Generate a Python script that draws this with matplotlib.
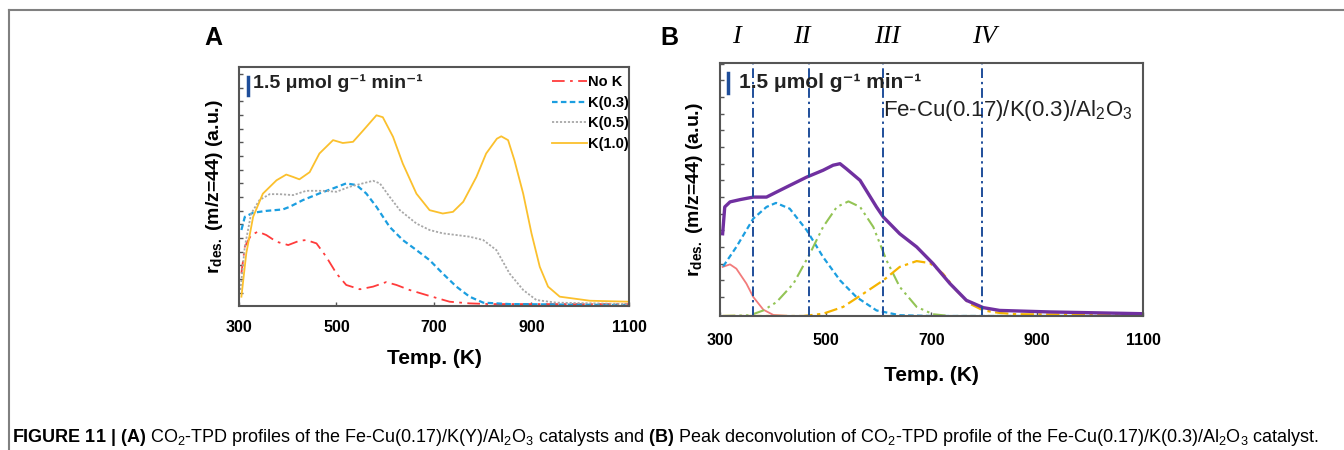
import numpy as np
import matplotlib
matplotlib.use("Agg")
import matplotlib.pyplot as plt
from matplotlib.lines import Line2D

plt.rcParams['font.family'] = ['Liberation Sans', 'DejaVu Sans']
plt.rcParams['mathtext.fontset'] = 'custom'
plt.rcParams['mathtext.rm'] = 'Liberation Sans'
plt.rcParams['mathtext.bf'] = 'Liberation Sans:bold'
plt.rcParams['mathtext.it'] = 'Liberation Sans:italic'

# ---- panel A: CO2-TPD profiles for different K loadings ----
t_nok = [305, 312, 325, 339, 356, 377, 401, 424, 438, 459, 479, 500, 520, 548,
         575, 602, 623, 650, 691, 732, 773, 814, 1100]
r_nok = [13.6, 24.8, 29.7, 31.1, 29.7, 26.9, 25.5, 27.3, 27.6, 26.2, 20.6, 13.6,
         8.8, 7.0, 8.1, 10.0, 8.8, 6.7, 4.2, 1.8, 1.1, 0.8, 0.8]

t_k03 = [305, 312, 329, 356, 390, 404, 431, 465, 493, 520, 541, 561, 582, 609,
         636, 664, 691, 718, 746, 773, 801, 855, 1100]
r_k03 = [31.8, 37.3, 39.0, 39.8, 40.4, 41.5, 44.3, 47.1, 49.2, 51.3, 50.6, 47.1,
         41.5, 33.1, 27.6, 23.4, 19.2, 13.6, 8.1, 3.9, 1.4, 0.8, 0.4]

t_k05 = [303, 312, 325, 342, 363, 383, 411, 438, 472, 500, 527, 554, 575, 589,
         609, 630, 664, 691, 718, 746, 773, 801, 828, 855, 883, 910, 951, 1100]
r_k05 = [6.7, 24.8, 38.7, 44.3, 46.8, 46.8, 46.4, 48.2, 48.2, 47.8, 49.9, 51.3,
         52.4, 51.3, 45.7, 40.1, 34.5, 31.8, 30.4, 29.7, 29.0, 27.6, 23.4, 13.6,
         6.7, 2.5, 1.4, 0.8]

t_k10 = [305, 315, 329, 349, 377, 397, 411, 424, 445, 465, 493, 513, 534, 555,
         582, 595, 616, 636, 664, 691, 718, 739, 760, 787, 807, 829, 838, 852,
         865, 883, 900, 917, 934, 958, 1020, 1100]
r_k10 = [3.9, 22.0, 37.3, 47.0, 52.6, 55.0, 54.0, 53.0, 56.0, 63.8, 69.4, 68.2,
         68.7, 73.5, 79.8, 79.0, 70.8, 59.6, 47.0, 40.1, 38.7, 39.4, 43.6, 54.0,
         63.8, 70.0, 71.0, 69.4, 61.0, 47.0, 30.4, 16.4, 8.1, 3.9, 2.2, 1.8]

labels_a = ['No K', 'K(0.3)', 'K(0.5)', 'K(1.0)']

# ---- panel B: deconvolution of the K(0.3) profile ----
t_tot = [305, 309, 319, 338, 363, 388, 407, 432, 464, 495, 514, 527, 539, 565,
         596, 609, 640, 672, 703, 735, 766, 798, 829, 924, 1100]
r_tot = [32.5, 43.1, 45.1, 46.0, 47.0, 47.0, 49.0, 51.6, 54.9, 57.6, 59.6, 60.2,
         58.2, 53.6, 43.1, 39.1, 32.5, 27.3, 20.7, 12.8, 6.2, 3.3, 2.2, 1.6, 0.9]

t_p1 = [305, 319, 331, 350, 363, 382, 401, 432, 1100]
r_p1 = [19.4, 20.4, 18.7, 12.8, 7.5, 2.5, 0.4, 0.0, 0.0]

t_p2 = [306, 331, 363, 388, 406, 432, 464, 495, 527, 558, 596, 640, 700, 1100]
r_p2 = [19.6, 27.3, 38.5, 43.1, 44.7, 42.4, 33.9, 23.3, 14.1, 7.5, 2.2, 0.3, 0.0, 0.0]

t_p3 = [305, 357, 382, 407, 439, 470, 495, 521, 543, 565, 590, 615, 640, 672,
        703, 735, 1100]
r_p3 = [0.0, 0.3, 2.2, 5.5, 12.8, 24.6, 35.2, 43.1, 45.3, 43.1, 35.2, 22.0, 11.5,
        3.6, 0.7, 0.0, 0.0]

t_p4 = [305, 458, 495, 533, 571, 609, 640, 672, 697, 722, 747, 772, 798, 829,
        861, 1100]
r_p4 = [0.0, 0.0, 0.9, 3.6, 8.8, 14.1, 19.4, 21.7, 20.9, 16.7, 10.1, 4.9, 2.2,
        1.2, 0.7, 0.4]

region_edges = [362, 468, 608, 795]
region_names = ['I', 'II', 'III', 'IV']
region_label_x = [332, 455, 616, 801]

rate_text = '1.5 μmol g⁻¹ min⁻¹'
ylab = r'r$_{\mathbf{des.}}$ (m/z=44) (a.u.)'

fig = plt.figure(figsize=(13.44, 4.5), dpi=100)

# thin page frame
fig.add_artist(Line2D([0.0067, 1.0], [0.978, 0.978], color='#808080', lw=1.5))
fig.add_artist(Line2D([0.0067, 0.0067], [0.978, 0.0], color='#808080', lw=1.5))


def style_axes(ax, yticks, pad):
    ax.set_xlim(300, 1100)
    ax.set_ylim(0, 100)
    ax.set_xticks([300, 500, 700, 900, 1100])
    ax.set_yticks(yticks)
    ax.set_yticklabels([])
    ax.tick_params(axis='both', direction='in', length=3, width=1, color='#555555')
    ax.tick_params(axis='x', pad=pad, labelsize=11.5)
    for lab in ax.get_xticklabels():
        lab.set_fontweight('bold')
    for s in ax.spines.values():
        s.set_color('#555555')
        s.set_linewidth(1.5)


# panel A
axA = fig.add_axes([0.1778, 0.32, 0.2902, 0.5311])
axA.plot(t_nok, r_nok, color='#ff3b3b', lw=1.3, dashes=(7, 3, 1.5, 3), label=labels_a[0])
axA.plot(t_k03, r_k03, color='#1b9ee0', lw=1.6, dashes=(2.5, 1.5), label=labels_a[1])
axA.plot(t_k05, r_k05, color='#a8a8a8', lw=1.3, dashes=(1.2, 1.0), label=labels_a[2])
axA.plot(t_k10, r_k10, color='#fbc02d', lw=1.3, label=labels_a[3])
style_axes(axA, np.arange(5.6, 100, 5.72), 10)
axA.set_xlabel('Temp. (K)', fontsize=15, fontweight='bold')
axA.xaxis.set_label_coords(0.5, -0.18)
axA.set_ylabel(ylab, fontsize=14, fontweight='bold')
axA.yaxis.set_label_coords(-0.035, 0.5)
leg = axA.legend(loc='upper right', bbox_to_anchor=(1.0, 0.965), frameon=False,
                 borderpad=0, borderaxespad=0, handlelength=2.4, handletextpad=0.1,
                 labelspacing=0.45, prop={'weight': 'bold', 'size': 10.5})
axA.add_line(Line2D([0.022, 0.022], [0.883, 0.958], transform=axA.transAxes,
                    color='#1f4e9a', lw=2.5))
axA.text(0.036, 0.933, rate_text, transform=axA.transAxes, fontsize=14,
         fontweight='bold', va='center', ha='left', color='#222222')
fig.text(213 / 1344, 1 - 38 / 450, 'A', fontsize=18, fontweight='bold',
         ha='center', va='center')

# panel B
axB = fig.add_axes([0.5357, 0.2978, 0.3147, 0.5622])
axB.plot(t_p1, r_p1, color='#f27b7b', lw=1.3)
axB.plot(t_p2, r_p2, color='#1b9ee0', lw=1.6, dashes=(2.5, 1.5))
axB.plot(t_p3, r_p3, color='#93c455', lw=1.5, dashes=(6, 2, 1.2, 2, 1.2, 2))
axB.plot(t_p4, r_p4, color='#f5b400', lw=1.6, dashes=(6, 2, 1.5, 2))
axB.plot(t_tot, r_tot, color='#7030a0', lw=2.4)
for xe in region_edges:
    axB.axvline(xe, color='#1f4e9a', lw=1.4, dashes=(5, 2, 1.2, 2))
for xn, name in zip(region_label_x, region_names):
    axB.text(xn, 1.103, name, transform=axB.get_xaxis_transform(), ha='center',
             va='center', fontsize=19, style='italic', family='Liberation Serif')
style_axes(axB, np.arange(7.5, 100, 6.59), 12)
axB.set_xlabel('Temp. (K)', fontsize=15, fontweight='bold')
axB.xaxis.set_label_coords(0.5, -0.198)
axB.set_ylabel(ylab, fontsize=14, fontweight='bold')
axB.yaxis.set_label_coords(-0.035, 0.5)
axB.add_line(Line2D([0.02, 0.02], [0.881, 0.96], transform=axB.transAxes,
                    color='#1f4e9a', lw=2.5))
axB.text(0.045, 0.921, rate_text, transform=axB.transAxes, fontsize=15,
         fontweight='bold', va='center', ha='left', color='#222222')
axB.text(0.976, 0.814, r'Fe-Cu(0.17)/K(0.3)/Al$_{2}$O$_{3}$', transform=axB.transAxes,
         fontsize=16, ha='right', va='center', color='#222222')
fig.text(669 / 1344, 1 - 38 / 450, 'B', fontsize=18, fontweight='bold',
         ha='center', va='center')

caption = (r'$\mathbf{FIGURE\ 11\ |\ (A)}$ CO$_2$-TPD profiles of the '
           r'Fe-Cu(0.17)/K(Y)/Al$_2$O$_3$ catalysts and $\mathbf{(B)}$ Peak '
           r'deconvolution of CO$_2$-TPD profile of the Fe-Cu(0.17)/K(0.3)/Al$_2$O$_3$ catalyst.')
fig.text(12 / 1344, 1 - 437 / 450, caption, fontsize=13, ha='left', va='center')

fig.savefig('out.png', dpi=100)
